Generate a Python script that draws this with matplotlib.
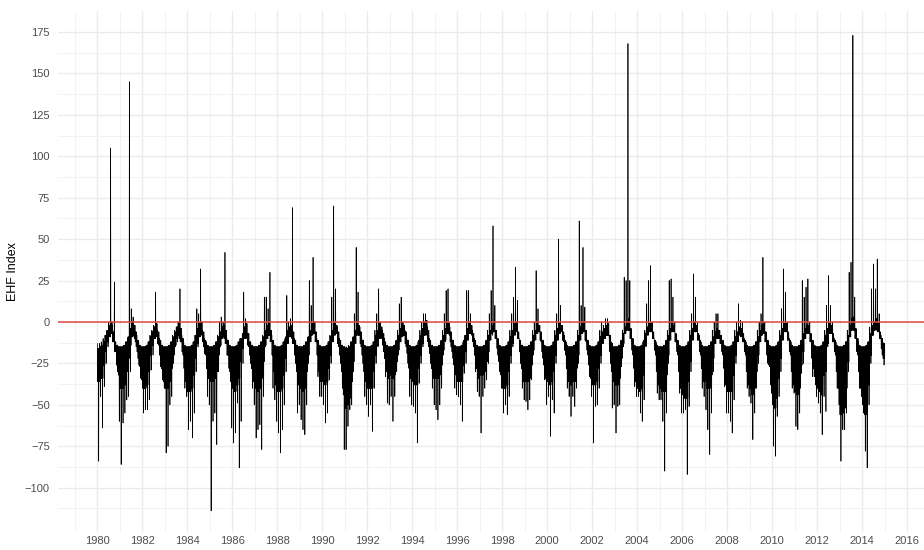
import numpy as np
import matplotlib.pyplot as plt

# monthly values of the daily EHF series (Jan..Dec per row)
first_year = 1980

# highest value in each month
ehf_high = [
    -13, -13, -12, -10, -8, -5, 0, 105, -2, 24, -14, -15,      # 1980
    -15, -15, -14, -12, -10, 145, 8, 3, -2, -8, -12, -15,      # 1981
    -15, -15, -14, -12, -8, -5, -2, 18, -5, -10, -14, -15,     # 1982
    -15, -15, -14, -12, -8, -5, -3, 0, 20, -8, -12, -15,       # 1983
    -15, -15, -14, -12, -8, 8, 5, 32, -5, -10, -12, -14,       # 1984
    -15, -15, -14, -12, -8, 0, 3, 0, 42, -10, -15, -15,        # 1985
    -15, -15, -14, -12, -10, -10, 18, 2, -8, -13, -15, -15,    # 1986
    -15, -15, -14, -12, -8, 15, 15, 8, 30, -8, -12, -15,       # 1987
    -15, -15, -14, -12, -10, 16, 0, 2, 69, -10, -14, -15,      # 1988
    -15, -15, -14, -12, -10, 25, 10, 39, 0, -10, -12, -15,     # 1989
    -15, -15, -14, -12, -8, 15, 70, 20, -3, -10, -15, -15,     # 1990
    -15, -15, -14, -12, -10, 5, 45, 18, -3, -10, -15, -15,     # 1991
    -15, -15, -14, -12, -5, 5, 20, 0, -5, -10, -15, -15,       # 1992
    -15, -15, -14, -12, -5, 11, 15, 0, -5, -10, -12, -15,      # 1993
    -15, -15, -14, -12, -5, 0, 5, 5, -3, -10, -15, -15,        # 1994
    -15, -15, -14, -12, -5, 5, 19, 20, -3, -10, -12, -15,      # 1995
    -15, -15, -14, -12, -8, 19, 19, 5, -5, -10, -14, -15,      # 1996
    -15, -15, -14, -12, -5, 5, 19, 58, 10, -8, -12, -15,       # 1997
    -15, -15, -14, -12, -5, 5, 15, 33, 13, -10, -15, -15,      # 1998
    -15, -15, -14, -12, -5, 0, 31, 8, -2, -10, -12, -15,       # 1999
    -15, -15, -14, -12, -5, 5, 50, 10, -2, -8, -12, -15,       # 2000
    -15, -15, -14, -12, -5, 61, 10, 45, 9, -10, -12, -15,      # 2001
    -15, -15, -14, -12, -5, 0, -2, 2, 2, -10, -12, -15,        # 2002
    -15, -15, -14, -12, -5, 27, 25, 168, 25, -10, -12, -15,    # 2003
    -15, -15, -14, -12, -5, 11, 25, 34, 0, -10, -12, -15,      # 2004
    -15, -15, -14, -12, -5, 25, 26, 15, 0, -8, -12, -15,       # 2005
    -15, -15, -14, -12, -5, 5, 29, 15, 0, -8, -12, -15,        # 2006
    -15, -15, -14, -12, -5, 0, 5, 5, -5, -10, -12, -15,        # 2007
    -15, -15, -14, -12, -5, 0, 11, 1, 0, -10, -12, -15,        # 2008
    -15, -15, -14, -12, -5, 0, 5, 39, 0, -8, -12, -15,         # 2009
    -15, -15, -14, -12, -5, 8, 32, 18, 0, -10, -12, -15,       # 2010
    -15, -15, -14, -12, 25, 15, 21, 26, 0, -10, -12, -15,      # 2011
    -15, -15, -14, -12, -5, 10, 28, 10, 0, -10, -12, -15,      # 2012
    -15, -15, -14, -12, -5, 30, 36, 173, 15, -10, -12, -15,    # 2013
    -15, -15, -14, -12, -3, 20, 35, 20, 38, 5, -8, -12,        # 2014
]

# lowest value in each month
ehf_low = [
    -84, -45, -64, -39, -25, -15, -8, -5, -12, -15, -30, -60,  # 1980
    -86, -61, -55, -47, -45, -30, -8, -10, -15, -22, -27, -35, # 1981
    -55, -53, -53, -47, -29, -20, -10, -6, -14, -27, -35, -40, # 1982
    -79, -75, -50, -45, -25, -15, -12, -10, -12, -20, -40, -45, # 1983
    -65, -60, -70, -55, -30, -15, -8, -8, -15, -20, -45, -50,  # 1984
    -114, -60, -55, -74, -30, -15, -10, -10, -12, -20, -30, -64, # 1985
    -73, -67, -49, -88, -60, -25, -8, -10, -15, -25, -40, -50, # 1986
    -70, -65, -62, -77, -45, -15, -10, -8, -10, -40, -47, -60, # 1987
    -67, -79, -65, -50, -30, -12, -8, -10, -12, -25, -55, -50, # 1988
    -59, -65, -68, -50, -25, -10, -5, -5, -12, -33, -45, -45,  # 1989
    -50, -61, -55, -35, -25, -10, -5, -5, -15, -25, -40, -77,  # 1990
    -77, -63, -53, -50, -30, -10, -5, -5, -15, -25, -45, -50,  # 1991
    -57, -50, -66, -40, -25, -15, -8, -10, -18, -33, -49, -50, # 1992
    -45, -60, -45, -30, -20, -12, -8, -8, -15, -25, -45, -50,  # 1993
    -51, -55, -73, -37, -25, -15, -8, -8, -15, -25, -40, -50,  # 1994
    -53, -59, -50, -40, -20, -12, -5, -8, -15, -22, -40, -44,  # 1995
    -45, -50, -60, -31, -25, -10, -5, -8, -15, -30, -42, -45,  # 1996
    -67, -45, -40, -35, -25, -10, -8, -5, -8, -20, -30, -40,   # 1997
    -55, -50, -56, -45, -25, -15, -5, -3, -10, -25, -40, -47,  # 1998
    -48, -53, -47, -35, -20, -10, -3, -5, -12, -22, -35, -50,  # 1999
    -45, -69, -47, -55, -25, -10, -5, -5, -12, -20, -40, -45,  # 2000
    -57, -45, -51, -40, -25, -10, -5, -5, -12, -20, -33, -45,  # 2001
    -73, -51, -50, -40, -25, -12, -10, -8, -8, -25, -52, -50,  # 2002
    -67, -51, -50, -27, -15, -5, -3, -5, -10, -20, -39, -45,   # 2003
    -45, -55, -60, -47, -15, -5, -5, -5, -10, -20, -43, -47,   # 2004
    -47, -60, -90, -55, -25, -10, -3, -5, -12, -20, -43, -55,  # 2005
    -55, -53, -92, -51, -30, -10, -3, -5, -10, -20, -40, -45,  # 2006
    -53, -65, -80, -55, -30, -12, -8, -10, -12, -20, -39, -55, # 2007
    -55, -60, -67, -47, -25, -10, -5, -8, -10, -20, -40, -45,  # 2008
    -49, -71, -55, -40, -25, -10, -5, -5, -10, -25, -27, -43,  # 2009
    -75, -81, -57, -45, -30, -10, -3, -5, -10, -20, -40, -43,  # 2010
    -63, -65, -55, -31, -25, -10, -5, -5, -10, -33, -33, -45,  # 2011
    -49, -55, -68, -45, -54, -15, -5, -5, -10, -20, -40, -50,  # 2012
    -84, -65, -65, -55, -30, -5, -3, -3, -10, -20, -40, -45,   # 2013
    -55, -78, -88, -50, -25, -8, -5, -5, -5, -10, -20, -26,    # 2014
]

# upper edge of the dense part of the band
band_top = [
    -16, -15, -14, -12, -8, -5, -2, 0, -6, -12, -14, -15,      # 1980
    -15, -15, -14, -12, -9, -4, 0, -2, -6, -11, -14, -15,      # 1981
    -15, -15, -14, -12, -9, -6, -3, -1, -6, -11, -14, -15,     # 1982
    -15, -15, -14, -12, -9, -6, -3, 0, -4, -10, -14, -15,      # 1983
    -15, -15, -14, -12, -8, -4, -1, 0, -6, -11, -14, -15,      # 1984
    -15, -15, -14, -12, -9, -6, -3, -2, -5, -11, -14, -15,     # 1985
    -15, -15, -14, -12, -10, -7, -3, -1, -7, -12, -14, -15,    # 1986
    -15, -15, -14, -12, -9, -5, -2, -1, -5, -11, -14, -15,     # 1987
    -15, -15, -14, -12, -9, -5, -3, -2, -6, -11, -14, -15,     # 1988
    -15, -15, -14, -12, -9, -5, -1, 0, -6, -11, -14, -15,      # 1989
    -15, -15, -14, -12, -9, -5, -1, -2, -6, -11, -14, -15,     # 1990
    -16, -16, -15, -12, -9, -5, -1, -2, -6, -11, -14, -15,     # 1991
    -15, -15, -14, -12, -8, -5, -1, -3, -7, -12, -14, -15,     # 1992
    -15, -15, -14, -11, -8, -4, -1, -2, -6, -11, -14, -15,     # 1993
    -15, -15, -14, -11, -8, -4, 0, 1, -5, -11, -14, -15,       # 1994
    -15, -15, -14, -11, -8, -4, -1, -1, -6, -11, -14, -15,     # 1995
    -15, -15, -14, -11, -8, -4, -1, -2, -7, -11, -14, -15,     # 1996
    -15, -15, -14, -11, -8, -5, -2, 0, -5, -10, -14, -15,      # 1997
    -15, -15, -14, -12, -9, -5, -1, 0, -6, -11, -14, -15,      # 1998
    -15, -15, -14, -12, -8, -5, -1, -2, -6, -11, -14, -15,     # 1999
    -15, -15, -14, -12, -8, -4, -1, -2, -6, -11, -14, -15,     # 2000
    -15, -15, -14, -12, -8, -3, -1, 0, -5, -11, -14, -15,      # 2001
    -15, -15, -14, -12, -9, -6, -4, -2, -1, -8, -13, -15,      # 2002
    -15, -15, -14, -11, -7, -3, 0, 2, -4, -10, -14, -15,       # 2003
    -15, -15, -14, -11, -7, -3, -1, -1, -6, -11, -14, -15,     # 2004
    -15, -15, -14, -11, -8, -4, -1, -2, -7, -11, -14, -15,     # 2005
    -15, -15, -14, -12, -8, -4, 0, -2, -7, -11, -14, -15,      # 2006
    -15, -15, -14, -12, -9, -6, -4, -5, -8, -11, -14, -15,     # 2007
    -15, -15, -14, -12, -9, -6, -3, -4, -7, -11, -14, -15,     # 2008
    -15, -15, -14, -12, -9, -5, -2, -1, -6, -11, -14, -15,     # 2009
    -15, -15, -14, -12, -8, -4, -1, -1, -6, -11, -14, -15,     # 2010
    -15, -15, -14, -11, -7, -4, -2, -2, -7, -11, -14, -15,     # 2011
    -15, -15, -14, -12, -8, -4, -1, -2, -7, -11, -14, -15,     # 2012
    -15, -15, -14, -12, -8, -2, 2, 3, -4, -10, -14, -15,       # 2013
    -15, -15, -14, -12, -7, -2, 0, 2, -1, -6, -10, -13,        # 2014
]

# lower edge of the dense part of the band
band_bottom = [
    -36, -34, -34, -26, -18, -12, -9, -7, -12, -18, -26, -32,  # 1980
    -40, -40, -38, -30, -22, -14, -9, -8, -12, -18, -26, -34,  # 1981
    -40, -40, -38, -30, -20, -14, -10, -9, -13, -20, -28, -36, # 1982
    -40, -40, -36, -28, -20, -14, -10, -8, -12, -18, -28, -36, # 1983
    -42, -42, -40, -32, -22, -13, -9, -7, -12, -19, -28, -34,  # 1984
    -36, -36, -34, -30, -20, -14, -10, -9, -13, -20, -28, -36, # 1985
    -40, -42, -38, -34, -24, -16, -10, -9, -14, -20, -28, -36, # 1986
    -40, -42, -40, -34, -24, -14, -10, -8, -12, -20, -30, -38, # 1987
    -42, -42, -40, -32, -22, -13, -9, -9, -13, -20, -30, -38,  # 1988
    -40, -42, -40, -30, -20, -12, -8, -7, -12, -20, -30, -36,  # 1989
    -36, -38, -36, -28, -20, -12, -8, -7, -13, -20, -30, -44,  # 1990
    -52, -50, -46, -36, -24, -13, -8, -8, -13, -20, -30, -36,  # 1991
    -40, -40, -40, -30, -20, -14, -10, -9, -14, -22, -30, -34, # 1992
    -32, -34, -32, -24, -17, -12, -9, -8, -13, -19, -28, -34,  # 1993
    -36, -38, -38, -28, -20, -13, -8, -7, -12, -19, -28, -34,  # 1994
    -34, -34, -32, -26, -17, -11, -7, -7, -12, -18, -26, -32,  # 1995
    -36, -36, -36, -26, -18, -11, -7, -7, -12, -20, -28, -34,  # 1996
    -32, -32, -30, -24, -18, -11, -7, -6, -10, -16, -24, -32,  # 1997
    -40, -40, -38, -30, -20, -13, -8, -6, -10, -18, -28, -36,  # 1998
    -36, -36, -34, -26, -17, -11, -7, -6, -11, -18, -26, -34,  # 1999
    -36, -38, -36, -30, -20, -11, -7, -6, -11, -17, -28, -36,  # 2000
    -38, -36, -36, -28, -20, -11, -7, -6, -11, -17, -26, -34,  # 2001
    -38, -38, -36, -28, -20, -13, -10, -8, -8, -18, -30, -36,  # 2002
    -38, -38, -34, -22, -13, -7, -5, -5, -10, -17, -28, -36,   # 2003
    -40, -42, -40, -32, -14, -8, -6, -6, -10, -17, -30, -38,   # 2004
    -40, -42, -42, -32, -20, -11, -6, -6, -12, -18, -30, -40,  # 2005
    -44, -46, -46, -36, -24, -11, -6, -6, -11, -18, -28, -36,  # 2006
    -36, -40, -40, -32, -22, -13, -10, -10, -13, -18, -28, -38, # 2007
    -42, -42, -42, -32, -20, -12, -8, -9, -12, -18, -30, -38,  # 2008
    -40, -44, -40, -30, -20, -12, -8, -7, -12, -20, -26, -38,  # 2009
    -50, -52, -46, -34, -22, -11, -6, -6, -11, -18, -30, -38,  # 2010
    -42, -44, -40, -26, -18, -10, -7, -7, -12, -22, -28, -38,  # 2011
    -40, -42, -44, -32, -30, -13, -7, -7, -12, -18, -30, -40,  # 2012
    -56, -55, -52, -40, -24, -9, -5, -5, -10, -18, -30, -40,   # 2013
    -50, -56, -56, -38, -20, -8, -5, -4, -6, -10, -16, -22,    # 2014
]

# each month: one stroke to its extreme high, one to its extreme low,
# and a few up-and-down strokes that fill the dense core of the band
month_order = [ehf_high, band_bottom, band_top, band_bottom,
               band_top, ehf_low, band_top, band_bottom]
n = len(ehf_high)
k = len(month_order)
x = np.empty(n * k)
y = np.empty(n * k)
for j, series in enumerate(month_order):
    x[j::k] = first_year + (np.arange(n) + (j + 0.5) / k) / 12
    y[j::k] = series

plt.rcParams['font.family'] = ['Liberation Sans', 'DejaVu Sans']

fig = plt.figure(figsize=(9.24, 5.5), dpi=100)
ax = fig.add_axes([0.0628, 0.0335, 0.9372, 0.9456])

ax.plot(x, y, color='black', linewidth=0.5)
ax.axhline(0, color='#e04848', linewidth=1.1)

ax.set_xlim(1978.25, 2016.75)
ax.set_ylim(-126.5, 187.4)

ax.set_xticks(np.arange(1980, 2017, 2))
ax.set_xticks(np.arange(1979, 2017, 2), minor=True)
ax.set_yticks(np.arange(-100, 176, 25))
ax.set_yticks(np.arange(-112.5, 176, 25), minor=True)

ax.grid(which='major', color='#ebebeb', linewidth=1.0)
ax.grid(which='minor', color='#f2f2f2', linewidth=0.7)
ax.set_axisbelow(True)

for s in ax.spines.values():
    s.set_visible(False)
ax.tick_params(which='both', length=0, labelsize=8, labelcolor='#4d4d4d')
ax.tick_params(axis='y', pad=6)
ax.tick_params(axis='x', pad=3.5)
ax.set_ylabel('EHF Index', fontsize=9, color='black', labelpad=4)

fig.savefig('out.png', dpi=100)
